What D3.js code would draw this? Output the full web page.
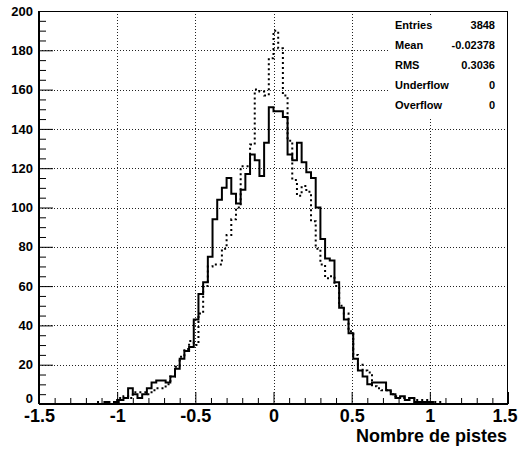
<!DOCTYPE html>
<html><head><meta charset="utf-8">
<script src="https://cdn.jsdelivr.net/npm/d3@7/dist/d3.min.js"></script>
<style>body{margin:0;background:#fff;}svg{display:block;}</style>
</head><body>
<svg id="c" width="518" height="449"></svg>
<script>
// ---- data ----
const binEdgesRange = [-1.5, 1.5];
const nBins = 100;
const solidCounts = [
 0,0,0,0,0,0,0,0,0,0,
 0,0,0,0,1,0,1,2,3,8,
 5,3,5,8,11,12,12,11,14,18,
 23,27,29,43,56,62,75,94,104,110,
 115,107,102,109,117,127,124,116,133,151,
 149,149,146,127,124,133,123,118,115,100,
 84,74,73,62,49,43,36,23,17,14,
 10,11,11,11,7,5,3,4,2,3,
 1,1,1,1,0,0,0,0,0,0,
 0,0,0,0,0,0,0,0,0,0];
const dottedCounts = [
 0,0,0,0,0,0,0,0,0,0,
 0,0,1,0,1,1,2,3,4,3,
 6,6,6,5,7,8,8,10,14,19,
 24,28,32,30,46,60,70,71,71,79,
 86,94,100,121,121,132,160,159,157,176,
 190,181,157,134,114,106,111,108,93,79,
 71,64,65,60,50,46,37,25,20,17,
 16,9,8,7,7,5,4,3,3,3,
 2,2,2,1,1,1,0,0,0,0,
 0,0,0,0,0,0,0,0,0,0];
const xMajorTicks = [-1.5,-1,-0.5,0,0.5,1,1.5];
const xTickLabels = ["-1.5","-1","-0.5","0","0.5","1","1.5"];
const yMajorTicks = [0,20,40,60,80,100,120,140,160,180,200];
const statNames = ["Entries","Mean","RMS","Underflow","Overflow"];
const statValues = ["3848","-0.02378","0.3036","0","0"];
const xTitle = "Nombre de pistes";

// ---- layout ----
const L = 39, R = 508, T = 11, B = 404;
const svg = d3.select("#c");
const x = d3.scaleLinear().domain(binEdgesRange).range([L, R]);
const y = d3.scaleLinear().domain([0, 200]).range([B, T]);
const font = "'Liberation Sans', Arial, Helvetica, sans-serif";

// grid
const grid = svg.append("g").attr("stroke", "#222").attr("stroke-width", 1).attr("stroke-dasharray", "1,2");
xMajorTicks.filter(v => v > -1.5 && v < 1.5).forEach(v => {
  grid.append("line").attr("x1", Math.round(x(v)) + 0.5).attr("x2", Math.round(x(v)) + 0.5)
    .attr("y1", T).attr("y2", B);
});
yMajorTicks.filter(v => v > 0 && v < 200).forEach(v => {
  grid.append("line").attr("y1", Math.round(y(v)) + 0.5).attr("y2", Math.round(y(v)) + 0.5)
    .attr("x1", L).attr("x2", R);
});

// histograms
const binW = (binEdgesRange[1] - binEdgesRange[0]) / nBins;
function stepPts(counts) {
  const pts = counts.map((c, i) => [binEdgesRange[0] + i * binW, c]);
  pts.push([binEdgesRange[1], counts[counts.length - 1]]);
  return pts;
}
const line = d3.line().x(d => x(d[0])).y(d => y(d[1])).curve(d3.curveStepAfter);
svg.append("path").attr("d", line(stepPts(dottedCounts))).attr("fill", "none")
  .attr("stroke", "#000").attr("stroke-width", 2).attr("stroke-dasharray", "2,3");
svg.append("path").attr("d", line(stepPts(solidCounts))).attr("fill", "none")
  .attr("stroke", "#000").attr("stroke-width", 2);

// frame
svg.append("line").attr("x1", L).attr("x2", R).attr("y1", T + 0.5).attr("y2", T + 0.5).attr("stroke", "#000").attr("stroke-width", 1);
svg.append("line").attr("x1", R - 0.5).attr("x2", R - 0.5).attr("y1", T).attr("y2", B).attr("stroke", "#000").attr("stroke-width", 1);

// y axis
const yMinor = d3.range(0, 201, 5).filter(v => v % 20 !== 0);
const yAx = svg.append("g").attr("transform", `translate(${L},0)`)
  .call(d3.axisLeft(y).tickValues(yMajorTicks).tickSize(-14).tickPadding(6).tickFormat(d3.format("d")));
svg.append("g").attr("transform", `translate(${L},0)`)
  .call(d3.axisLeft(y).tickValues(yMinor).tickSize(-7).tickFormat(""))
  .call(g => g.select(".domain").remove());
// x axis
const xMinor = d3.range(-15, 16).map(v => v / 10).filter(v => Math.abs(v * 2 - Math.round(v * 2)) > 1e-6);
const xAx = svg.append("g").attr("transform", `translate(0,${B})`)
  .call(d3.axisBottom(x).tickValues(xMajorTicks).tickSize(-12).tickPadding(5).tickFormat((d, i) => xTickLabels[i]));
svg.append("g").attr("transform", `translate(0,${B})`)
  .call(d3.axisBottom(x).tickValues(xMinor).tickSize(-6).tickFormat(""))
  .call(g => g.select(".domain").remove());

svg.selectAll(".tick line").attr("stroke", "#000").attr("stroke-width", 1);
yAx.select(".domain").attr("stroke-width", 2).attr("d", `M0,${B}V${T}`);
xAx.select(".domain").attr("stroke-width", 2).attr("d", `M${L},0H${R}`);
yAx.selectAll("text").attr("font-family", font).attr("font-weight", "bold").attr("font-size", 13).attr("fill", "#000");
yAx.selectAll(".tick").filter(d => d === 0).select("text").attr("dy", "-0.12em");
xAx.selectAll("text").attr("font-family", font).attr("font-weight", "bold").attr("font-size", 18).attr("fill", "#000");
xAx.selectAll(".tick").filter(d => d === 1.5).select("text").attr("text-anchor", "end").attr("x", 517 - R);

// axis title
svg.append("text").attr("x", R - 1).attr("y", 442).attr("text-anchor", "end")
  .attr("font-family", font).attr("font-weight", "bold").attr("font-size", 18).text(xTitle);

// stats box
svg.append("rect").attr("x", 390).attr("y", 15).attr("width", 116).attr("height", 102).attr("fill", "#fff");
statNames.forEach((n, i) => {
  const yy = 28.5 + i * 20.2;
  svg.append("text").attr("x", 395).attr("y", yy).attr("font-family", font).attr("font-weight", "bold")
    .attr("font-size", 11).text(n);
  svg.append("text").attr("x", 495).attr("y", yy).attr("text-anchor", "end").attr("font-family", font)
    .attr("font-weight", "bold").attr("font-size", 11).text(statValues[i]);
});
</script>
</body></html>
